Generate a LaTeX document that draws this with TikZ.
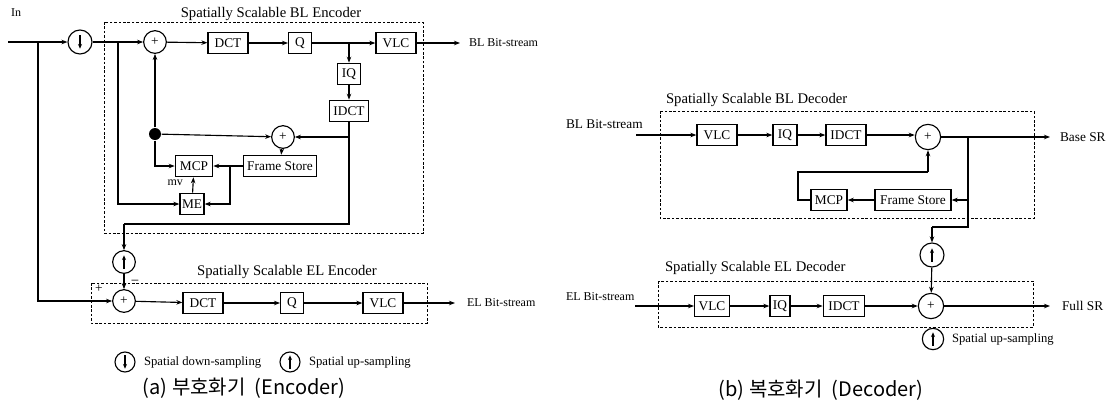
\documentclass[tikz,border=0pt]{standalone}
\usepackage{fontspec}
\setmainfont{Liberation Serif}
\newfontfamily\krfont{Noto Sans CJK KR}
\usetikzlibrary{arrows.meta}
\newcommand\fsz[1]{\fontsize{#1}{#1}\selectfont}
\begin{document}
\begin{tikzpicture}[x=0.75pt,y=-0.75pt,
  line width=0.85pt,
  >={Stealth[length=4.5pt,width=3.4pt]},
  blk/.style={draw,line width=1pt,fill=white,font=\fsz{10},minimum height=16pt,inner xsep=3pt,inner ysep=1pt},
  addr/.style={draw,circle,fill=white,minimum size=17pt,inner sep=0pt,font=\fsz{10}},
  upc/.style={draw,circle,fill=white,minimum size=#1,inner sep=0pt,
    path picture={\draw[line width=0.9pt,-{Stealth[length=3.5pt,width=3pt]}] ([yshift=-5pt]path picture bounding box.center) -- ([yshift=5pt]path picture bounding box.center);}},
  dnc/.style={draw,circle,fill=white,minimum size=#1,inner sep=0pt,
    path picture={\draw[line width=0.9pt,-{Stealth[length=3.5pt,width=3pt]}] ([yshift=5pt]path picture bounding box.center) -- ([yshift=-5pt]path picture bounding box.center);}},
  dbox/.style={draw,dash pattern=on 2pt off 1.3pt,line width=0.7pt},
  ttl/.style={font=\fsz{11}},
  lbl/.style={font=\fsz{9}},
  captxt/.style={font=\krfont\fsz{15}}
]
\useasboundingbox (0,0) rectangle (1108,405);

% ================= (a) Encoder =================
\draw[dbox] (104,22) rectangle (423,233);
\draw[dbox] (91,283) rectangle (427,323);
\node[ttl] (tblenc) at (271,14) {Spatially Scalable BL Encoder};
\node[ttl] (telenc) at (287,272) {Spatially Scalable EL Encoder};

\node[lbl,anchor=west] (inl) at (6,13) {In};
\coordinate (ins) at (8,42);
\coordinate (b1) at (38,42);
\coordinate (b2) at (118,42);
\node[dnc=18pt] (down) at (80,42) {};
\node[addr] (add1) at (155,42) {+};
\node[blk,minimum width=30pt] (dct) at (228,43) {DCT};
\node[blk,minimum width=17pt] (q) at (300,43) {Q};
\node[blk,minimum width=30pt] (vlc) at (396,43) {VLC};
\coordinate (b3) at (349,43);
\node[blk,minimum width=17pt] (iq) at (349,74) {IQ};
\node[blk,minimum width=27pt] (idct) at (349,111) {IDCT};
\coordinate (blo) at (460,43);
\node[lbl,anchor=west] (blbs) at (464,43) {BL Bit-stream};

\node[addr] (add2) at (283,137) {+};
\node[circle,fill,inner sep=0pt,minimum size=9pt] (dot) at (155,134) {};
\node[blk,minimum width=28pt] (mcp) at (194,166) {MCP};
\node[blk,minimum width=54pt] (fs) at (280,166) {Frame Store};
\node[blk,minimum width=18pt,inner xsep=1pt] (me) at (192,204) {ME};
\node[lbl,anchor=east] (mv) at (188,183) {mv};
\coordinate (b4) at (230,166);
\coordinate (b5) at (349,137);
\coordinate (c2) at (124,224);

\node[upc=17pt] (up1) at (124,262) {};
\node[addr] (add3) at (124,301) {+};
\node[lbl,font=\fsz{10}] (plus) at (99,289) {+};
\node[lbl,font=\fsz{11},inner sep=0pt] (minus) at (135,283) {−};
\node[blk,minimum width=30pt] (dct2) at (203,303) {DCT};
\node[blk,minimum width=17pt] (q2) at (292,303) {Q};
\node[blk,minimum width=30pt] (vlc2) at (383,303) {VLC};
\coordinate (elo) at (455,303);
\node[lbl,anchor=west] (elbs) at (462,303) {EL Bit-stream};

\draw[->] (ins) -- (down);
\draw[->] (b1) |- (add3.west);
\draw[->] (down) -- (add1);
\draw[->] (b2) |- (me.west);
\draw[->] (add1) -- (dct);
\draw[->] (dct) -- (q);
\draw[->] (q) -- (vlc);
\draw[->] (b3) -- (iq);
\draw[->] (iq) -- (idct);
\draw[->] (vlc) -- (blo);
\draw (idct.south) |- (c2);
\draw[->] (c2) -- (up1);
\draw[->] (b5) -- (add2);
\draw[->] (dot) -- (add1);
\draw[->] (dot) -- (add2);
\draw[->] (dot) |- (mcp.west);
\draw[->] (add2) -- (fs);
\draw[->] (fs) -- (mcp);
\draw[->] (b4) |- (me.east);
\draw[->] (me) -- (mcp);
\draw[->] (up1) -- (add3);
\draw[->] (add3) -- (dct2);
\draw[->] (dct2) -- (q2);
\draw[->] (q2) -- (vlc2);
\draw[->] (vlc2) -- (elo);

\node[dnc=15pt] (lgd) at (125,362) {};
\node[lbl,anchor=west,font=\fsz{9.5}] (lgdt) at (139,362) {Spatial down-sampling};
\node[upc=15pt] (lgu) at (290,362) {};
\node[lbl,anchor=west,font=\fsz{9.5}] (lgut) at (304,362) {Spatial up-sampling};
\node[captxt] (capa) at (244,388) {(a)\ 부호화기\ \ (Encoder)};

% ================= (b) Decoder =================
\draw[dbox] (660,111) rectangle (1034,218);
\draw[dbox] (658,281) rectangle (1033,327);
\node[ttl,anchor=west] (tbldec) at (661,100) {Spatially Scalable BL Decoder};
\node[ttl,anchor=west] (teldec) at (660,268) {Spatially Scalable EL Decoder};

\node[font=\fsz{10},anchor=west] (blin) at (561,124) {BL Bit-stream};
\coordinate (blis) at (636,135);
\node[blk,minimum width=30pt] (dvlc) at (717,135) {VLC};
\node[blk,minimum width=18pt] (diq) at (785,135) {IQ};
\node[blk,minimum width=30pt] (didct) at (846,135) {IDCT};
\node[addr,minimum size=19pt] (dadd) at (928,137) {+};
\coordinate (bso) at (1050,137);
\node[font=\fsz{10},anchor=west] (bsr) at (1055,137) {Base SR};
\coordinate (d1) at (968,137);
\coordinate (d2) at (968,200);
\coordinate (d3) at (968,227);
\coordinate (d4) at (932,227);
\node[blk,minimum width=57pt] (dfs) at (913,200) {Frame Store};
\node[blk,minimum width=24pt] (dmcp) at (829,200) {MCP};
\coordinate (m1) at (798,200);
\coordinate (m2) at (798,172);
\coordinate (m3) at (928,172);

\node[upc=18pt] (dup) at (932,255) {};
\node[font=\fsz{9},anchor=west] (elin) at (561,297) {EL Bit-stream};
\coordinate (elis) at (635,306);
\node[blk,minimum width=26pt] (dvlc2) at (712,306) {VLC};
\node[blk,minimum width=15pt,inner xsep=1pt] (diq2) at (780,306) {IQ};
\node[blk,minimum width=31pt] (didct2) at (844,306) {IDCT};
\node[addr,minimum size=19pt] (dadd2) at (931,306) {+};
\coordinate (fso) at (1050,306);
\node[font=\fsz{10},anchor=west] (fsr) at (1057,306) {Full SR};

\draw[->] (blis) -- (dvlc);
\draw[->] (dvlc) -- (diq);
\draw[->] (diq) -- (didct);
\draw[->] (didct.east) -- (dadd.west |- didct.east);
\draw[->] (dadd) -- (bso);
\draw (d1) -- (d3) -- (d4);
\draw[->] (d2) -- (dfs);
\draw[->] (d4) -- (dup);
\draw[->] (dfs) -- (dmcp);
\draw (dmcp.west) -- (m1) -- (m2) -- (m3);
\draw[->] (m3) -- (dadd);
\draw[->] (dup) -- (dadd2);
\draw[->] (elis) -- (dvlc2);
\draw[->] (dvlc2) -- (diq2);
\draw[->] (diq2) -- (didct2);
\draw[->] (didct2) -- (dadd2);
\draw[->] (dadd2) -- (fso);

\node[upc=16pt] (dlgu) at (933,339) {};
\node[anchor=west,font=\fsz{9.5}] (dlgut) at (947,339) {Spatial up-sampling};
\node[captxt] (capb) at (821,390) {(b)\ 복호화기\ \ (Decoder)};
\end{tikzpicture}
\end{document}
